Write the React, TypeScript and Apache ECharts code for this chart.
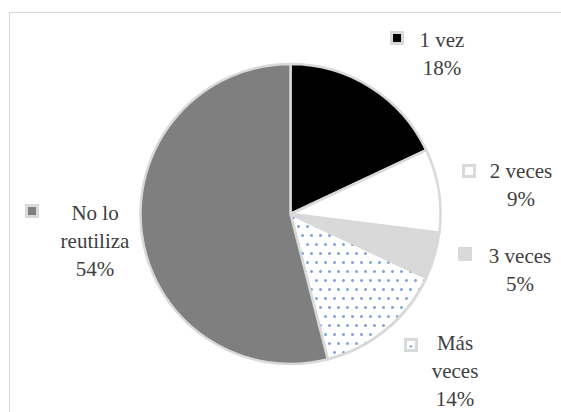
import React, { useEffect, useRef } from "react";
import * as echarts from "echarts";

const categories = ["1 vez", "2 veces", "3 veces", "Más veces", "No lo reutiliza"];
const values = [18, 9, 5, 14, 54];
const labelLines = [["1 vez"], ["2 veces"], ["3 veces"], ["Más", "veces"], ["No lo", "reutiliza"]];
const colors = ["#000000", "#ffffff", "#d9d9d9", "#ffffff", "#7f7f7f"];

// label layout: marker centre and text block centre (x) / first line centre (y)
const labelPos = [
  { mx: 397, my: 38, tx: 442, ty: 40 },
  { mx: 469, my: 171, tx: 521, ty: 171 },
  { mx: 465, my: 254, tx: 520, ty: 256 },
  { mx: 411, my: 345, tx: 455, ty: 343 },
  { mx: 32, my: 211, tx: 95, ty: 213 },
];

const BORDER = "#d9d9d9";
const FONT = "'Liberation Serif', 'Liberation Sans', sans-serif";
const FS = 21;
const LH = 28;

export default function App() {
  const ref = useRef<HTMLDivElement>(null);
  useEffect(() => {
    if (!ref.current) return;
    const chart = echarts.init(ref.current, undefined, { renderer: "svg" });
    const decal = {
      symbol: "circle",
      symbolSize: 1,
      color: "#7ea3dc",
      dashArrayX: [[2.4, 5.6], [0, 4, 2.4, 1.6]],
      dashArrayY: [2.4, 5.6],
    };
    const data = categories.map((name, i) => ({
      name,
      value: values[i],
      itemStyle: {
        color: colors[i],
        ...(name === "Más veces" ? { decal } : {}),
      },
    }));

    const graphics: any[] = [
      {
        type: "rect",
        silent: true,
        shape: { x: 9.5, y: 12.5, width: 600, height: 450 },
        style: { fill: "none", stroke: BORDER, lineWidth: 1 },
        z: 0,
      },
    ];
    categories.forEach((name, i) => {
      const p = labelPos[i];
      graphics.push({
        type: "rect",
        shape: { x: p.mx - 5.5, y: p.my - 5.5, width: 11, height: 11 },
        style: { fill: colors[i], stroke: BORDER, lineWidth: 3 },
        z: 10,
      });
      if (name === "Más veces") {
        graphics.push({
          type: "rect",
          shape: { x: p.mx - 1.5, y: p.my + 0.5, width: 2.5, height: 2 },
          style: { fill: "#7ea3dc" },
          z: 11,
        });
      }
      const text = [...labelLines[i], values[i] + "%"].join("\n");
      graphics.push({
        type: "text",
        x: p.tx,
        y: p.ty - LH / 2,
        style: {
          text,
          fill: "#404040",
          fontSize: FS,
          fontFamily: FONT,
          lineHeight: LH,
          align: "center",
          verticalAlign: "top",
        },
        z: 10,
      });
    });

    chart.setOption({
      animation: false,
      backgroundColor: "#ffffff",
      series: [
        {
          type: "pie",
          center: [290.5, 214],
          radius: 150,
          startAngle: 90,
          clockwise: true,
          silent: true,
          label: { show: false },
          labelLine: { show: false },
          itemStyle: { borderColor: BORDER, borderWidth: 2.5 },
          data,
        },
      ],
      graphic: graphics,
    });
    return () => chart.dispose();
  }, []);
  return (
    <div
      ref={ref}
      style={{ position: "fixed", left: 0, top: 0, width: 561, height: 412 }}
    />
  );
}
